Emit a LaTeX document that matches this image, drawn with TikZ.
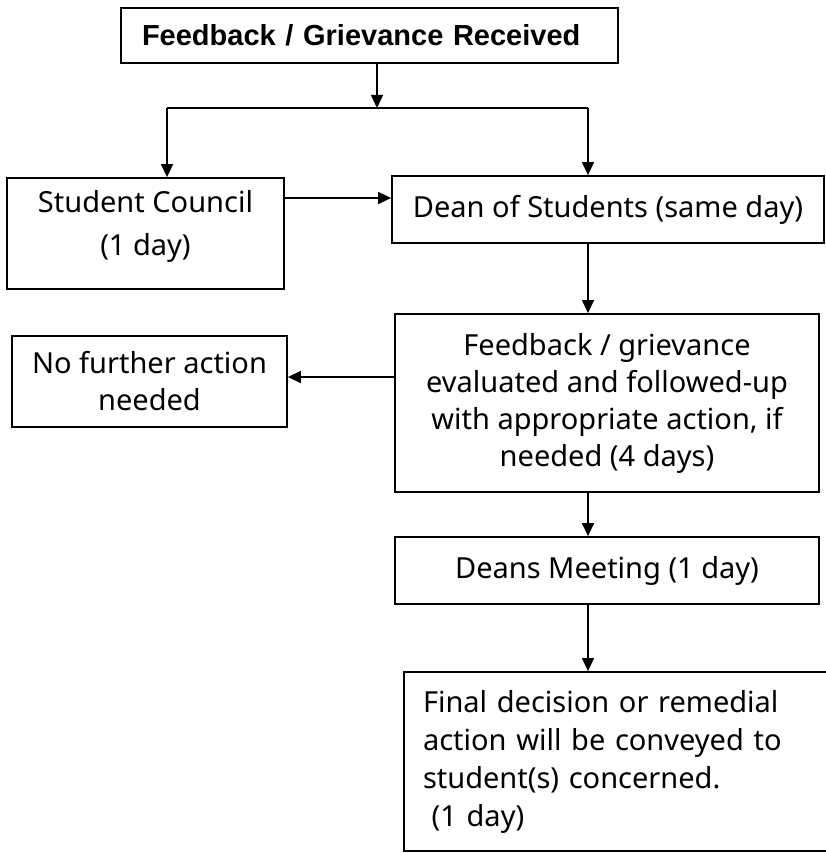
\documentclass[tikz,border=0pt]{standalone}
\usepackage{fontspec}
\setmainfont{Noto Sans}
\newfontfamily\titlefont{Liberation Sans}
\usetikzlibrary{arrows.meta}

\begin{document}
\begin{tikzpicture}[x=1pt,y=-1pt,
            box/.style={shape=rectangle, draw, line width=1.8pt, inner sep=0pt, align=center, font=\fontsize{29}{37}\selectfont},
            arr/.style={line width=1.4pt, -{Triangle[length=13pt,width=12pt]}}]
        \useasboundingbox (0,0) rectangle (825,853);

        % boxes
        \node[box, minimum width=497, minimum height=55, text width=455, inner xsep=21, align=left,
              font=\titlefont\bfseries\fontsize{29}{34}\selectfont] (title) at (369.5,35.5) {Feedback / Grievance Received};
        \node[box, minimum width=277, minimum height=111, text depth=22pt,
              font=\fontsize{29}{43}\selectfont] (council) at (145.5,233.5) {Student Council\\(1 day)};
        \node[box, minimum width=432, minimum height=67] (dean) at (608,209.5) {Dean of Students (same day)};
        \node[box, minimum width=424, minimum height=178] (eval) at (607,403) {Feedback / grievance\\evaluated and followed-up\\with appropriate action, if\\needed (4 days)};
        \node[box, minimum width=275, minimum height=91] (noaction) at (149.5,381.5) {No further action\\needed};
        \node[box, minimum width=424, minimum height=67] (meeting) at (607,570.5) {Deans Meeting (1 day)};
        \node[box, minimum width=436, minimum height=179, text width=398, inner xsep=19, align=left,
              font=\fontsize{29}{38}\selectfont] (final) at (622,761.5) {Final decision or remedial\\action will be conveyed to\\student(s) concerned.\\\hspace*{0.3em}(1 day)};

        % connectors
        \coordinate (split) at (377,108);
        \coordinate (leftbr) at (167,108);
        \coordinate (rightbr) at (588,108);
        \coordinate (spine) at (588,0);
        \coordinate (councilrow) at (0,198);
        \coordinate (noactionrow) at (0,377);

        \draw[arr] (title.south -| split) -- (split);
        \draw[line width=1.4pt] (leftbr) -- (rightbr);
        \draw[arr] (leftbr) -- (leftbr |- council.north);
        \draw[arr] (rightbr) -- (rightbr |- dean.north);
        \draw[arr] (council.east |- councilrow) -- (dean.west |- councilrow);
        \draw[arr] (dean.south -| spine) -- (eval.north -| spine);
        \draw[arr] (eval.west |- noactionrow) -- (noaction.east |- noactionrow);
        \draw[arr] (eval.south -| spine) -- (meeting.north -| spine);
        \draw[arr] (meeting.south -| spine) -- (final.north -| spine);
    \end{tikzpicture}
\end{document}
